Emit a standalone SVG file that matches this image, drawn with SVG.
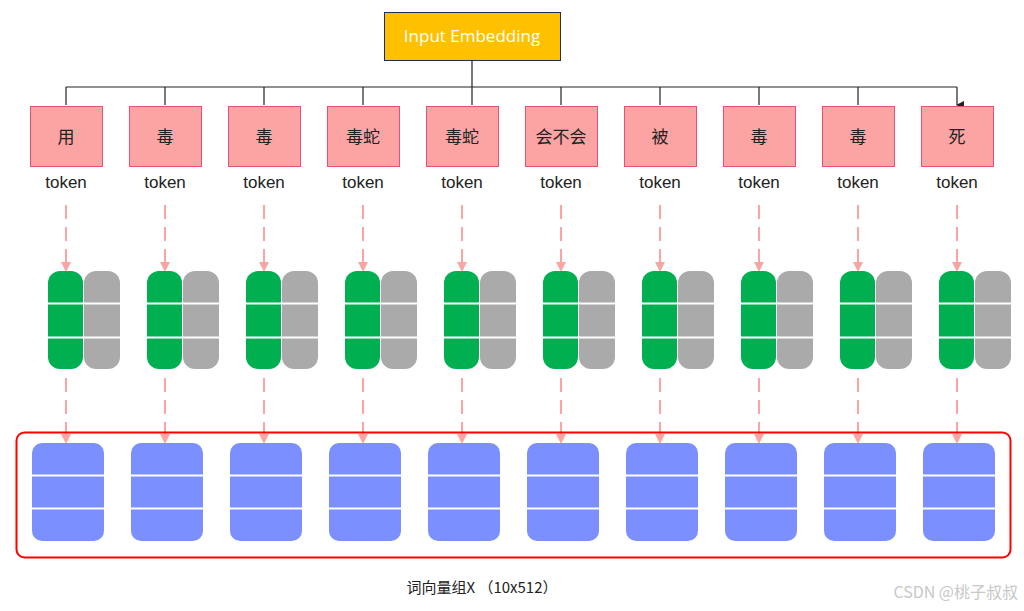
<svg xmlns="http://www.w3.org/2000/svg" width="1024" height="611" viewBox="0 0 1024 611">
<style>
.tok{fill:#fca3a3;stroke:#e8507a;stroke-width:1}
.t{font-family:"Liberation Sans","Noto Sans CJK SC",sans-serif;font-size:17px;fill:#222;text-anchor:middle}
.c{font-family:"Noto Sans CJK SC",sans-serif;font-size:17px;fill:#222;text-anchor:middle}
.g{fill:#00b050}.gr{fill:#aaaaaa}.b{fill:#7b8fff}
.sep{stroke:#fff;stroke-width:2}
.bus{stroke:#222;stroke-width:1.2;fill:none}
.da{stroke:#fca3a3;stroke-width:2;stroke-dasharray:14 8;fill:none}
</style>
<defs>
<marker id="ab" markerWidth="8" markerHeight="8" refX="4" refY="7" orient="auto" markerUnits="userSpaceOnUse" viewBox="0 0 8 8"><path d="M0,0 L8,0 L4,8z" fill="#222" transform="rotate(0)"/></marker>
<marker id="ap" markerWidth="10" markerHeight="10" refX="5" refY="9" markerUnits="userSpaceOnUse" viewBox="0 0 10 10"><path d="M0,0 L10,0 L5,10z" fill="#fca3a3"/></marker>
</defs>
<rect width="1024" height="611" fill="#fff"/>
<g id="input-embedding">
<rect x="384.5" y="12.5" width="176" height="48" fill="#ffc000" stroke="#1f2d5a"/>
<text x="472" y="42" font-family="Open Sans, sans-serif" font-size="17" fill="#fff" text-anchor="middle">Input Embedding</text>
</g>
<g id="connectors">
<path class="bus" d="M472,60V87M66,87H957"/>
<path class="bus" marker-end="url(#ab)" d="M66,87V105M165,87V105M264,87V105M363,87V105M472,87V105M561,87V105M660,87V105M759,87V105M858,87V105M957,87V105"/>
<g class="da" marker-end="url(#ap)">
<path d="M66,205V271"/><path d="M165,205V271"/><path d="M264,205V271"/><path d="M363,205V271"/><path d="M462,205V271"/><path d="M561,205V271"/><path d="M660,205V271"/><path d="M759,205V271"/><path d="M858,205V271"/><path d="M957,205V271"/>
<path d="M66,378V443"/><path d="M165,378V443"/><path d="M264,378V443"/><path d="M363,378V443"/><path d="M462,378V443"/><path d="M561,378V443"/><path d="M660,378V443"/><path d="M759,378V443"/><path d="M858,378V443"/><path d="M957,378V443"/>
</g>
</g>
<g id="tokens">
<g id="tok0"><rect class="tok" x="30.5" y="106.5" width="72" height="60"/><text class="c" x="66" y="143">用</text><text class="t" x="66" y="188">token</text></g>
<g id="tok1"><rect class="tok" x="129.5" y="106.5" width="72" height="60"/><text class="c" x="165" y="143">毒</text><text class="t" x="165" y="188">token</text></g>
<g id="tok2"><rect class="tok" x="228.5" y="106.5" width="72" height="60"/><text class="c" x="264" y="143">毒</text><text class="t" x="264" y="188">token</text></g>
<g id="tok3"><rect class="tok" x="327.5" y="106.5" width="72" height="60"/><text class="c" x="363" y="143">毒蛇</text><text class="t" x="363" y="188">token</text></g>
<g id="tok4"><rect class="tok" x="426.5" y="106.5" width="72" height="60"/><text class="c" x="462" y="143">毒蛇</text><text class="t" x="462" y="188">token</text></g>
<g id="tok5"><rect class="tok" x="525.5" y="106.5" width="72" height="60"/><text class="c" x="561" y="143">会不会</text><text class="t" x="561" y="188">token</text></g>
<g id="tok6"><rect class="tok" x="624.5" y="106.5" width="72" height="60"/><text class="c" x="660" y="143">被</text><text class="t" x="660" y="188">token</text></g>
<g id="tok7"><rect class="tok" x="723.5" y="106.5" width="72" height="60"/><text class="c" x="759" y="143">毒</text><text class="t" x="759" y="188">token</text></g>
<g id="tok8"><rect class="tok" x="822.5" y="106.5" width="72" height="60"/><text class="c" x="858" y="143">毒</text><text class="t" x="858" y="188">token</text></g>
<g id="tok9"><rect class="tok" x="921.5" y="106.5" width="72" height="60"/><text class="c" x="957" y="143">死</text><text class="t" x="957" y="188">token</text></g>
</g>
<defs>
<g id="pair">
<rect class="gr" x="84" y="271" width="36" height="98" rx="12"/>
<rect class="g" x="48" y="271" width="35" height="98" rx="12"/>
<path class="sep" d="M48,303.5H120M48,337.5H120"/>
</g>
<g id="blue">
<rect class="b" x="32" y="443" width="72" height="98" rx="10"/>
<path class="sep" d="M32,475.5H104M32,508.5H104"/>
</g>
</defs>
<g id="vectors">
<use href="#pair"/><use href="#pair" x="99"/><use href="#pair" x="198"/><use href="#pair" x="297"/><use href="#pair" x="396"/><use href="#pair" x="495"/><use href="#pair" x="594"/><use href="#pair" x="693"/><use href="#pair" x="792"/><use href="#pair" x="891"/>
</g>
<g id="matrix">
<rect x="16.5" y="432.5" width="994" height="125" rx="8" fill="none" stroke="#ff0000" stroke-width="2"/>
<use href="#blue"/><use href="#blue" x="99"/><use href="#blue" x="198"/><use href="#blue" x="297"/><use href="#blue" x="396"/><use href="#blue" x="495"/><use href="#blue" x="594"/><use href="#blue" x="693"/><use href="#blue" x="792"/><use href="#blue" x="891"/>
<text x="482" y="593" font-family="Noto Sans CJK SC, sans-serif" font-size="15" fill="#222" text-anchor="middle">词向量组X （10x512）</text>
</g>
<text x="1018" y="598" font-family="Noto Sans CJK SC, sans-serif" font-size="16" fill="#c8c8c8" text-anchor="end">CSDN @桃子叔叔</text>
</svg>
